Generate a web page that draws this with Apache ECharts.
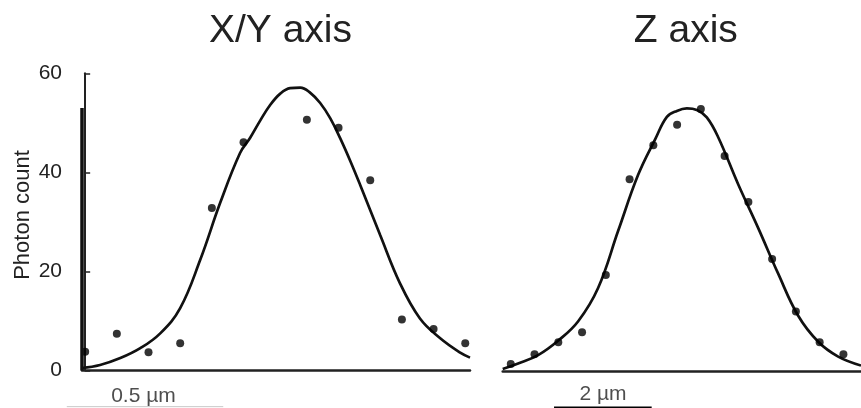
<!DOCTYPE html>
<html>
<head>
<meta charset="utf-8">
<script src="https://cdn.jsdelivr.net/npm/echarts@6/dist/echarts.min.js"></script>
<style>
html,body{margin:0;padding:0;background:#fff;}
#chart{width:861px;height:408px;}
</style>
</head>
<body>
<div id="chart"></div>
<script>
// ---- data (x in sample index units) ----
const xyPointX = [0, 1, 2, 3, 4, 5, 7, 8, 9, 10, 11, 12];
const xyPointY = [3.8, 7.4, 3.7, 5.5, 32.8, 46.1, 50.6, 49.0, 38.4, 10.3, 8.4, 5.5];
const xyCurveX = [-0.1, 0.47, 1.11, 1.74, 2.37, 3.0, 3.63, 4.26, 4.89, 5.21, 5.53, 5.84, 6.16, 6.47, 6.79, 7.10, 7.42, 7.74, 8.05, 8.37, 8.68, 9.31, 9.94, 10.57, 11.21, 11.84, 12.15];
const xyCurveY = [0.5, 1.1, 2.5, 4.5, 7.5, 12.6, 22.3, 33.8, 43.9, 47.0, 50.5, 53.6, 55.9, 57.0, 57.1, 56.1, 54.0, 50.9, 46.9, 42.3, 37.5, 27.4, 17.6, 10.5, 6.5, 3.6, 2.6];

const zPointX = [0, 1, 2, 3, 4, 5, 6, 7, 8, 9, 10, 11, 12, 13, 14];
const zPointY = [1.4, 3.4, 5.8, 7.8, 19.4, 38.7, 45.6, 49.7, 52.9, 43.4, 34.1, 22.6, 12.0, 5.8, 3.4];
const zCurveX = [-0.34, 0.31, 1.15, 1.99, 2.83, 3.67, 4.52, 5.36, 6.08, 6.57, 6.99, 7.41, 7.83, 8.25, 8.73, 9.57, 10.41, 11.25, 12.09, 12.94, 13.78, 14.74];
const zCurveY = [0.4, 1.5, 3.2, 6.1, 10.0, 16.7, 28.3, 39.6, 46.8, 51.3, 52.5, 53.0, 52.7, 51.2, 47.2, 37.7, 28.9, 19.7, 11.2, 5.9, 2.9, 1.1];

const yTicks = [0, 20, 40, 60];
const titles = ['X/Y axis', 'Z axis'];
const yName = 'Photon count';

// scale bars (data units of each panel)
const xyBarX = [-0.58, 4.36];
const xyBarY = -7.3;
const xyBarLabel = '0.5 µm';
const xyBarLabelPos = [1.84, -5.1];
const zBarX = [1.82, 5.93];
const zBarY = -7.45;
const zBarLabel = '2 µm';
const zBarLabelPos = [3.88, -4.75];

// left-axis heavy segment seen in the figure
const xyAxisSegY = [53, 0];

const zip = (a, b) => a.map((v, i) => [v, b[i]]);
const FONT = '"Liberation Sans", Arial, Helvetica, sans-serif';
const TXT = '#222';

const baseGraphic = [
  {id: 't1', type: 'text', x: 280.5, y: 30.8, style: {text: titles[0], font: '39px ' + FONT, fill: TXT, textAlign: 'center', textVerticalAlign: 'middle', verticalAlign: 'middle'}},
  {id: 't2', type: 'text', x: 685.8, y: 30.8, style: {text: titles[1], font: '39px ' + FONT, fill: TXT, textAlign: 'center', textVerticalAlign: 'middle', verticalAlign: 'middle'}},
  {id: 'yn', type: 'text', x: 22.5, y: 215, rotation: Math.PI / 2, style: {text: yName, font: '22px ' + FONT, fill: TXT, textAlign: 'center', textVerticalAlign: 'middle', verticalAlign: 'middle'}}
];

const chart = echarts.init(document.getElementById('chart'));
chart.setOption({
  animation: false,
  backgroundColor: '#fff',
  grid: [
    {left: 82, top: 73.3, width: 388, height: 297.2},
    {left: 502.7, top: 73.8, width: 358.3, height: 297.2}
  ],
  xAxis: [
    {gridIndex: 0, type: 'value', min: -0.1, max: 12.15,
     axisLine: {show: true, onZero: false, lineStyle: {color: '#222', width: 2.5}},
     axisTick: {show: false}, axisLabel: {show: false}, splitLine: {show: false}},
    {gridIndex: 1, type: 'value', min: -0.34, max: 14.74,
     axisLine: {show: true, onZero: false, lineStyle: {color: '#222', width: 2.5}},
     axisTick: {show: false}, axisLabel: {show: false}, splitLine: {show: false}}
  ],
  yAxis: [
    {gridIndex: 0, type: 'value', min: yTicks[0], max: yTicks[yTicks.length - 1], interval: 20,
     axisLine: {show: true, lineStyle: {color: '#222', width: 2}},
     axisTick: {show: true, inside: true, length: 5, lineStyle: {color: '#222', width: 1.5}},
     axisLabel: {show: true, margin: 20, color: TXT, fontSize: 21, fontFamily: FONT},
     splitLine: {show: false}},
    {gridIndex: 1, type: 'value', min: yTicks[0], max: yTicks[yTicks.length - 1], show: false}
  ],
  graphic: baseGraphic,
  series: [
    {type: 'line', xAxisIndex: 0, yAxisIndex: 0, data: zip(xyCurveX, xyCurveY), smooth: 0.4, showSymbol: false, symbol: 'none',
     lineStyle: {color: '#111', width: 2.7}, z: 3},
    {type: 'scatter', xAxisIndex: 0, yAxisIndex: 0, data: zip(xyPointX, xyPointY), symbolSize: 8,
     itemStyle: {color: '#000'}, z: 4},
    {type: 'line', xAxisIndex: 0, yAxisIndex: 0, data: [[-0.1, xyAxisSegY[0]], [-0.1, xyAxisSegY[1]]], symbol: 'none',
     lineStyle: {color: '#111', width: 3.5}, clip: false, z: 5},
    {type: 'line', xAxisIndex: 1, yAxisIndex: 1, data: zip(zCurveX, zCurveY), smooth: 0.4, showSymbol: false, symbol: 'none',
     lineStyle: {color: '#111', width: 2.7}, z: 3},
    {type: 'scatter', xAxisIndex: 1, yAxisIndex: 1, data: zip(zPointX, zPointY), symbolSize: 8,
     itemStyle: {color: '#000'}, z: 4},
    {type: 'scatter', xAxisIndex: 0, yAxisIndex: 0, data: [xyBarLabelPos], symbolSize: 0, clip: false, silent: true,
     label: {show: true, position: 'inside', formatter: xyBarLabel, color: TXT, fontSize: 21, fontFamily: FONT}},
    {type: 'scatter', xAxisIndex: 1, yAxisIndex: 1, data: [zBarLabelPos], symbolSize: 0, clip: false, silent: true,
     label: {show: true, position: 'inside', formatter: zBarLabel, color: TXT, fontSize: 21, fontFamily: FONT}}
  ]
});

// scale bars positioned through the panels' own scales
const a1 = chart.convertToPixel({gridIndex: 0}, [xyBarX[0], xyBarY]);
const a2 = chart.convertToPixel({gridIndex: 0}, [xyBarX[1], xyBarY]);
const b1 = chart.convertToPixel({gridIndex: 1}, [zBarX[0], zBarY]);
const b2 = chart.convertToPixel({gridIndex: 1}, [zBarX[1], zBarY]);
chart.setOption({
  graphic: baseGraphic.concat([
    {id: 'sb1', type: 'line', shape: {x1: a1[0], y1: a1[1], x2: a2[0], y2: a2[1]}, style: {stroke: '#c8c8c8', lineWidth: 1}},
    {id: 'sb2', type: 'line', shape: {x1: b1[0], y1: b1[1], x2: b2[0], y2: b2[1]}, style: {stroke: '#000', lineWidth: 3}}
  ])
});
</script>
</body>
</html>
